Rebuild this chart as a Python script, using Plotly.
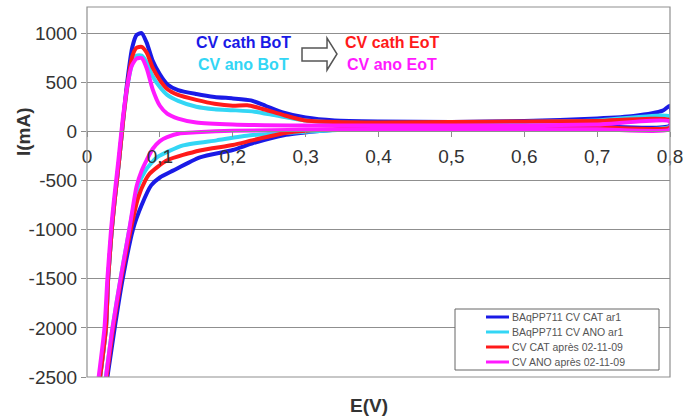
import plotly.graph_objects as go

# ---------------- data ----------------
# Each cyclic voltammogram: forward scan (low -> high E) then reverse scan (high -> low E)
E_cat_bot = [0.018, 0.026, 0.029, 0.034, 0.038, 0.044, 0.050, 0.056, 0.062, 0.068, 0.075, 0.082, 0.090,
             0.100, 0.110, 0.125, 0.150, 0.175, 0.200, 0.225, 0.245, 0.270, 0.300, 0.340, 0.400, 0.500,
             0.600, 0.700, 0.750, 0.790, 0.800,
             0.800, 0.700, 0.600, 0.500, 0.400, 0.350, 0.315, 0.270, 0.228, 0.200, 0.155, 0.118, 0.100,
             0.088, 0.075, 0.063, 0.049, 0.038, 0.028]
I_cat_bot = [-2500, -2000, -1500, -1000, -700, -300, 150, 550, 850, 980, 1000, 900, 720,
             580, 480, 420, 380, 350, 335, 315, 260, 190, 140, 110, 100, 95,
             105, 130, 155, 210, 260,
             60, 50, 45, 40, 35, 20, 0, -40, -120, -190, -265, -400, -470,
             -550, -750, -1000, -1500, -2000, -2500]

E_ano_bot = [0.018, 0.026, 0.029, 0.034, 0.038, 0.044, 0.050, 0.056, 0.062, 0.068, 0.075, 0.082, 0.090,
             0.100, 0.110, 0.125, 0.150, 0.175, 0.200, 0.230, 0.260, 0.300, 0.340, 0.400, 0.500,
             0.600, 0.700, 0.800,
             0.800, 0.600, 0.400, 0.350, 0.300, 0.224, 0.178, 0.132, 0.096, 0.080, 0.070, 0.058,
             0.046, 0.035, 0.026]
I_ano_bot = [-2500, -2000, -1500, -1000, -700, -300, 130, 480, 690, 770, 770, 700, 560,
             450, 370, 310, 250, 225, 215, 200, 160, 110, 90, 85, 85,
             95, 110, 150,
             50, 40, 30, 15, -5, -41, -92, -143, -265, -400, -560, -1000,
             -1500, -2000, -2500]

E_cat_eot = [0.018, 0.026, 0.029, 0.034, 0.038, 0.044, 0.050, 0.056, 0.062, 0.068, 0.075, 0.082, 0.090,
             0.100, 0.110, 0.125, 0.150, 0.175, 0.200, 0.220, 0.240, 0.270, 0.300, 0.340, 0.400, 0.500,
             0.600, 0.700, 0.800,
             0.800, 0.700, 0.600, 0.400, 0.300, 0.270, 0.228, 0.200, 0.155, 0.110, 0.086, 0.080,
             0.070, 0.060, 0.047, 0.036, 0.027]
I_cat_eot = [-2500, -2000, -1500, -1000, -700, -300, 140, 500, 760, 850, 860, 800, 650,
             520, 430, 370, 320, 280, 260, 265, 230, 165, 110, 95, 90, 95,
             100, 105, 115,
             40, 40, 40, 30, 5, -20, -90, -140, -195, -295, -430, -500,
             -680, -1000, -1500, -2000, -2500]

E_ano_eot = [0.016, 0.024, 0.028, 0.033, 0.037, 0.043, 0.049, 0.055, 0.061, 0.068, 0.075, 0.082, 0.090,
             0.100, 0.110, 0.125, 0.150, 0.200, 0.300, 0.400, 0.500, 0.600, 0.700, 0.800,
             0.800, 0.700, 0.500, 0.300, 0.200, 0.150, 0.128, 0.110, 0.100, 0.090, 0.082, 0.075,
             0.068, 0.058, 0.046, 0.035, 0.026]
I_ano_eot = [-2500, -2000, -1500, -1000, -700, -300, 120, 450, 660, 740, 745, 640, 430,
             260, 180, 130, 90, 70, 60, 60, 60, 60, 70, 100,
             20, 20, 20, 15, 5, -10, -20, -60, -100, -180, -290, -400,
             -560, -1000, -1500, -2000, -2500]

series_names = ["BAqPP711 CV CAT ar1", "BAqPP711 CV ANO ar1",
                "CV CAT après 02-11-09", "CV ANO après 02-11-09"]
series_colors = ["#1a1ae6", "#33d6f5", "#ff1a1a", "#ff1aff"]

x_tickvals = [0, 0.1, 0.2, 0.3, 0.4, 0.5, 0.6, 0.7, 0.8]
x_ticktext = ["0", "0,1", "0,2", "0,3", "0,4", "0,5", "0,6", "0,7", "0,8"]
y_tickvals = [1000, 500, 0, -500, -1000, -1500, -2000, -2500]
y_ticktext = ["1000", "500", "0", "-500", "-1000", "-1500", "-2000", "-2500"]

labels_bot = ["CV cath BoT", "CV ano BoT"]
labels_eot = ["CV cath EoT", "CV ano EoT"]

# ---------------- figure ----------------
W, H = 683, 417
ML, MR, MT, MB = 87, 13, 7, 40
PW, PH = W - ML - MR, H - MT - MB
Y_MIN, Y_MAX = -2500, 1265

def px(xp):
    return (xp - ML) / PW

def py(yp):
    return (H - MB - yp) / PH

fig = go.Figure()
xs = [E_cat_bot, E_ano_bot, E_cat_eot, E_ano_eot]
ys = [I_cat_bot, I_ano_bot, I_cat_eot, I_ano_eot]
for xv, yv, nm, col in zip(xs, ys, series_names, series_colors):
    fig.add_trace(go.Scatter(x=xv, y=yv, mode="lines", name=nm, showlegend=False,
                             line=dict(color=col, width=4, shape="spline", smoothing=0.6)))

FONT = "Liberation Sans, Arial, sans-serif"
GRID = "#8f8f8f"
TXT = "#333333"

fig.update_layout(
    width=W, height=H,
    margin=dict(l=ML, r=MR, t=MT, b=MB, autoexpand=False),
    paper_bgcolor="white", plot_bgcolor="white",
    font=dict(family=FONT, color=TXT, size=19),
    showlegend=False,
    xaxis=dict(range=[0, 0.8], tickvals=x_tickvals, ticktext=x_ticktext,
               showgrid=False, zeroline=False, anchor="free",
               position=(0 - Y_MIN) / (Y_MAX - Y_MIN),
               showline=True, linecolor=GRID, linewidth=1,
               ticks="outside", ticklen=5, tickcolor=GRID, ticklabelstandoff=3,
               ticklabeloverflow="allow",
               tickfont=dict(size=19, color=TXT)),
    yaxis=dict(range=[Y_MIN, Y_MAX], tickvals=y_tickvals, ticktext=y_ticktext,
               showgrid=True, gridcolor=GRID, gridwidth=1, zeroline=False,
               showline=False, ticks="outside", ticklen=5, tickcolor=GRID,
               ticklabeloverflow="allow",
               tickfont=dict(size=19, color=TXT)),
)

# plot frame
fig.add_shape(type="rect", xref="paper", yref="paper", x0=0, x1=1, y0=0, y1=1,
              line=dict(color=GRID, width=1.2), fillcolor="rgba(0,0,0,0)", layer="above")

# legend box (drawn by hand so that its compact row spacing matches)
fig.add_shape(type="rect", xref="paper", yref="paper", x0=px(455), x1=px(659), y0=py(370), y1=py(309),
              line=dict(color="#666666", width=1), fillcolor="white", layer="above")
legend_rows = [317, 332, 347, 362]
for yy, nm, col in zip(legend_rows, series_names, series_colors):
    fig.add_shape(type="line", xref="paper", yref="paper", x0=px(486), x1=px(509), y0=py(yy), y1=py(yy),
                  line=dict(color=col, width=3), layer="above")
    fig.add_annotation(xref="paper", yref="paper", x=px(510), y=py(yy), text=nm,
                       xanchor="left", yanchor="middle", showarrow=False,
                       font=dict(size=10.5, color="#555555"))

# hollow arrow
pts = [(302, 48), (327, 48), (327, 38), (337, 54), (327, 70), (327, 61), (302, 61)]
path = "M " + " L ".join(f"{px(a):.4f},{py(b):.4f}" for a, b in pts) + " Z"
fig.add_shape(type="path", xref="paper", yref="paper", path=path,
              line=dict(color="#555555", width=1.5), fillcolor="white")

# text annotations
for xc, yc, t, col in [(244, 42, labels_bot[0], series_colors[0]),
                       (244, 65, labels_bot[1], series_colors[1]),
                       (392, 42, labels_eot[0], series_colors[2]),
                       (392, 65, labels_eot[1], series_colors[3])]:
    fig.add_annotation(xref="paper", yref="paper", x=px(xc), y=py(yc), text=f"<b>{t}</b>",
                       xanchor="center", yanchor="middle", showarrow=False,
                       font=dict(size=16, color=col))

# axis titles
fig.add_annotation(xref="paper", yref="paper", x=px(369), y=py(405), text="<b>E(V)</b>",
                   xanchor="center", yanchor="middle", showarrow=False,
                   font=dict(size=19, color=TXT))
fig.add_annotation(xref="paper", yref="paper", x=px(23), y=py(132), text="<b>I(mA)</b>",
                   xanchor="center", yanchor="middle", showarrow=False, textangle=-90,
                   font=dict(size=19, color=TXT))

fig.write_html("out.html", config={"displayModeBar": False},
               post_script="document.body.style.margin='0px';")
